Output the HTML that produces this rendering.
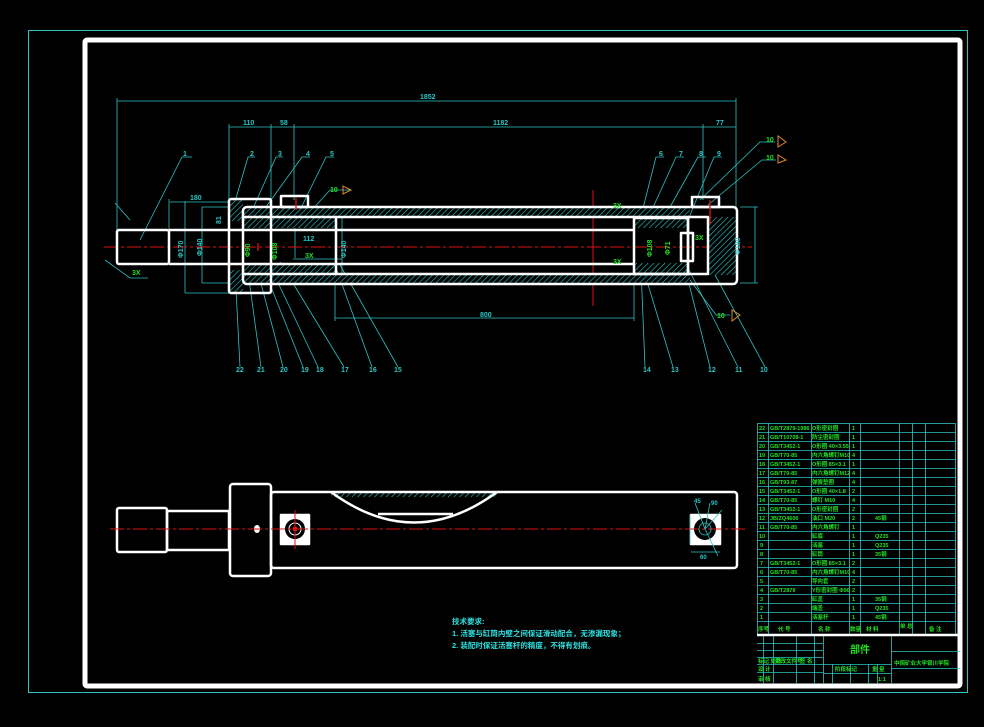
<!DOCTYPE html>
<html><head><meta charset="utf-8"><style>
html,body{margin:0;padding:0;background:#000;}
svg{display:block;}
text{font-family:"Liberation Sans","Noto Sans CJK SC",sans-serif;font-weight:bold;}
</style></head><body>
<svg width="984" height="727" viewBox="0 0 984 727" xmlns="http://www.w3.org/2000/svg">
<defs>
<pattern id="h" width="4" height="4" patternUnits="userSpaceOnUse" patternTransform="rotate(45)">
<rect width="4" height="4" fill="#000"/><line x1="0" y1="0" x2="0" y2="4" stroke="#2fc8c8" stroke-width="1.2"/>
</pattern>
</defs>
<rect x="0" y="0" width="984" height="727" fill="#000"/>
<!-- frames -->
<rect x="28.5" y="30.5" width="939" height="662" fill="none" stroke="#2ec4c4" stroke-width="1"/>
<rect x="85" y="40" width="875" height="646" fill="none" stroke="#fff" stroke-width="5" rx="2"/>

<!-- ===== TOP VIEW ===== -->
<g stroke="#2ec4c4" stroke-width="0.8" fill="none">
 <!-- dim lines -->
 <line x1="117" y1="101" x2="736" y2="101"/>
 <line x1="117" y1="98" x2="117" y2="232"/>
 <line x1="736" y1="98" x2="736" y2="207"/>
 <line x1="229" y1="127" x2="736" y2="127"/>
 <line x1="229" y1="124" x2="229" y2="200"/>
 <line x1="271" y1="124" x2="271" y2="200"/>
 <line x1="294" y1="124" x2="294" y2="200"/>
 <line x1="703" y1="124" x2="703" y2="200"/>
 <line x1="335" y1="318" x2="634" y2="318"/>
 <line x1="335" y1="275" x2="335" y2="321"/>
 <line x1="634" y1="275" x2="634" y2="321"/>
 <line x1="170" y1="202" x2="230" y2="202"/>
 <line x1="169" y1="199" x2="169" y2="264"/>
 <line x1="185" y1="201" x2="185" y2="293"/>
 <line x1="185" y1="293" x2="230" y2="293"/>
 <line x1="202" y1="207" x2="202" y2="283"/>
 <line x1="202" y1="207" x2="243" y2="207"/>
 <line x1="202" y1="283" x2="243" y2="283"/>
 <line x1="740" y1="207" x2="758" y2="207"/>
 <line x1="740" y1="283" x2="758" y2="283"/>
 <line x1="755" y1="207" x2="755" y2="283"/>
 <line x1="293" y1="259" x2="342" y2="259"/>
 <line x1="342" y1="217" x2="342" y2="275"/>
 <line x1="295" y1="221" x2="295" y2="258"/>
 <!-- leaders top -->
 <polyline points="140,240 182,157 192,157"/>
 <polyline points="234,205 248,157 255,157"/>
 <polyline points="250,215 276,157 283,157"/>
 <polyline points="258,218 302,157 310,157"/>
 <polyline points="300,210 326,157 334,157"/>
 <polyline points="310,212 330,190 350,190"/>
 <polyline points="640,220 656,157 664,157"/>
 <polyline points="645,225 676,157 684,157"/>
 <polyline points="660,225 698,157 706,157"/>
 <polyline points="688,220 714,157 722,157"/>
 <polyline points="700,200 760,142 775,142"/>
 <polyline points="708,205 762,160 776,160"/>
 <!-- leaders bottom -->
 <polyline points="235,270 240,367"/><polyline points="248,272 261,367"/>
 <polyline points="258,272 283,367"/><polyline points="265,272 303,367"/>
 <polyline points="272,270 318,367"/><polyline points="280,262 344,367"/>
 <polyline points="335,265 372,367"/><polyline points="340,265 398,367"/>
 <polyline points="641,268 645,367"/><polyline points="643,268 673,367"/>
 <polyline points="685,268 710,367"/><polyline points="688,268 738,367"/>
 <polyline points="715,275 765,367"/>
 <polyline points="690,280 716,315 730,315"/>
 <polyline points="105,260 130,278 148,278"/>
 <polyline points="130,220 115,203"/>
</g>
<!-- centerlines -->
<line x1="104" y1="247" x2="752" y2="247" stroke="#e01010" stroke-width="1" stroke-dasharray="14,3,3,3"/>
<line x1="593" y1="190" x2="593" y2="306" stroke="#e01010" stroke-width="1"/>
<!-- barrel hatch bands -->
<rect x="243" y="207" width="447" height="10" fill="url(#h)"/>
<rect x="243" y="273" width="447" height="10" fill="url(#h)"/>
<rect x="243" y="217" width="93" height="11" fill="url(#h)"/>
<rect x="243" y="263" width="93" height="11" fill="url(#h)"/>
<rect x="229" y="198" width="14" height="23" fill="url(#h)"/>
<rect x="229" y="270" width="14" height="22" fill="url(#h)"/>
<rect x="634" y="217" width="54" height="11" fill="url(#h)"/>
<rect x="634" y="263" width="54" height="11" fill="url(#h)"/>
<path d="M708,217 L737,217 L737,275 L708,275 Z" fill="url(#h)"/>
<g stroke="#fff" stroke-width="2.5" fill="none" stroke-linejoin="round">
 <rect x="117" y="230" width="52" height="34" rx="2"/>
 <line x1="169" y1="230" x2="634" y2="230"/>
 <line x1="169" y1="264" x2="634" y2="264"/>
 <rect x="229" y="199" width="42" height="94" rx="2"/>
 <rect x="243" y="207" width="494" height="77" rx="4"/>
 <line x1="243" y1="217" x2="690" y2="217"/>
 <line x1="243" y1="274" x2="690" y2="274"/>
 <rect x="634" y="218" width="54" height="56"/>
 <rect x="688" y="217" width="20" height="57"/>
 <rect x="681" y="233" width="12" height="28"/>
 <rect x="281" y="196" width="27" height="11"/>
 <rect x="692" y="197" width="27" height="10"/>
 <line x1="336" y1="217" x2="336" y2="274"/>
</g>
<g stroke="#e01010" stroke-width="1.3">
 <line x1="258" y1="243" x2="258" y2="251"/><line x1="296" y1="198" x2="296" y2="210"/>
 <line x1="710" y1="200" x2="710" y2="224"/>
</g>
<g fill="#2ec4c4" font-size="7">
 <text x="420" y="99">1852</text><text x="243" y="125">110</text><text x="280" y="125">58</text>
 <text x="493" y="125">1182</text><text x="716" y="125">77</text>
 <text x="190" y="200">180</text><text x="480" y="317">800</text><text x="303" y="241">112</text>
 <text x="183" y="156">1</text><text x="250" y="156">2</text><text x="278" y="156">3</text>
 <text x="306" y="156">4</text><text x="330" y="156">5</text>
 <text x="659" y="156">6</text><text x="679" y="156">7</text><text x="699" y="156">8</text><text x="717" y="156">9</text>
 <text x="236" y="372">22</text><text x="257" y="372">21</text><text x="280" y="372">20</text>
 <text x="301" y="372">19</text><text x="316" y="372">18</text><text x="341" y="372">17</text>
 <text x="369" y="372">16</text><text x="394" y="372">15</text>
 <text x="643" y="372">14</text><text x="671" y="372">13</text><text x="708" y="372">12</text>
 <text x="735" y="372">11</text><text x="760" y="372">10</text>
 <text transform="translate(183,258) rotate(-90)">Φ170</text>
 <text transform="translate(202,256) rotate(-90)">Φ140</text>
 <text transform="translate(346,258) rotate(-90)">Φ140</text>
 <text transform="translate(740,255) rotate(-90)">Φ180</text>
 <text transform="translate(221,224) rotate(-90)">81</text>
</g>
<g fill="#20e020" font-size="7">
 <text x="330" y="192">10</text><text x="766" y="142">10</text><text x="766" y="160">10</text><text x="717" y="318">10</text>
 <text x="132" y="275">3X</text><text x="613" y="208">3X</text><text x="613" y="264">3X</text>
 <text x="305" y="258">3X</text><text x="695" y="240">3X</text>
 <text transform="translate(250,257) rotate(-90)">Φ90</text>
 <text transform="translate(277,260) rotate(-90)">Φ108</text>
 <text transform="translate(652,257) rotate(-90)">Φ108</text>
 <text transform="translate(670,255) rotate(-90)">Φ71</text>
</g>
<g stroke="#e08a30" fill="none" stroke-width="1">
 <path d="M343,186 L343,194 L351,190 Z"/><path d="M778,136 L778,147 L786,142 Z"/>
 <path d="M778,155 L778,163 L786,160 Z"/><path d="M732,310 L732,321 L740,315 Z"/>
</g>

<!-- ===== BOTTOM VIEW ===== -->
<rect x="331" y="492" width="166" height="5" fill="url(#h)"/>
<g stroke="#fff" stroke-width="2.5" fill="none" stroke-linejoin="round">
 <rect x="117" y="508" width="50" height="44" rx="2"/>
 <rect x="167" y="511" width="62" height="39"/>
 <rect x="230" y="484" width="41" height="92" rx="3"/>
 <rect x="271" y="492" width="466" height="76" rx="3"/>
 <path d="M331,492 Q414,553 497,492"/>
 <line x1="378" y1="514" x2="453" y2="514"/>
 <rect x="281" y="515" width="28" height="29" fill="#fff"/>
 <rect x="691" y="515" width="29" height="29" fill="#fff"/>
</g>
<ellipse cx="257" cy="529" rx="3" ry="4" fill="#fff"/>
<g fill="#000"><circle cx="295" cy="529" r="10"/><circle cx="705" cy="529" r="11"/></g>
<g stroke="#000" fill="none" stroke-width="1"><circle cx="295" cy="529" r="6" stroke="#fff"/></g>
<circle cx="295" cy="529" r="2.5" fill="#e01010"/>
<line x1="110" y1="529" x2="745" y2="529" stroke="#e01010" stroke-width="1" stroke-dasharray="14,3,3,3"/>
<line x1="295" y1="510" x2="295" y2="549" stroke="#e01010" stroke-width="1"/>
<g stroke="#2ec4c4" stroke-width="0.8" fill="none">
 <circle cx="705" cy="529" r="6"/>
 <line x1="705" y1="529" x2="695" y2="503"/><line x1="705" y1="529" x2="710" y2="503"/>
 <line x1="705" y1="529" x2="722" y2="510"/><line x1="705" y1="529" x2="718" y2="556"/>
 <line x1="690" y1="515" x2="690" y2="544"/><line x1="691" y1="552" x2="720" y2="552"/>
</g>
<g fill="#2ec4c4" font-size="6"><text x="700" y="559">60</text><text x="694" y="503">45</text><text x="711" y="505">90</text></g>

<!-- notes -->
<g fill="#2ee0e0" font-size="7.5">
 <text x="452" y="624">技术要求:</text>
 <text x="452" y="636">1. 活塞与缸筒内壁之间保证滑动配合，无渗漏现象；</text>
 <text x="452" y="648">2. 装配时保证活塞杆的精度，不得有划痕。</text>
</g>

<!-- ===== TABLE ===== -->
<g stroke="#2ec4c4" stroke-width="0.8" fill="none">
 <rect x="757.5" y="423.5" width="198" height="211"/>
 <g id="rows">
  <line x1="757" y1="432.5" x2="956" y2="432.5"/><line x1="757" y1="441.5" x2="956" y2="441.5"/>
  <line x1="757" y1="450.5" x2="956" y2="450.5"/><line x1="757" y1="459.5" x2="956" y2="459.5"/>
  <line x1="757" y1="468.5" x2="956" y2="468.5"/><line x1="757" y1="477.5" x2="956" y2="477.5"/>
  <line x1="757" y1="486.5" x2="956" y2="486.5"/><line x1="757" y1="495.5" x2="956" y2="495.5"/>
  <line x1="757" y1="504.5" x2="956" y2="504.5"/><line x1="757" y1="513.5" x2="956" y2="513.5"/>
  <line x1="757" y1="522.5" x2="956" y2="522.5"/><line x1="757" y1="531.5" x2="956" y2="531.5"/>
  <line x1="757" y1="540.5" x2="956" y2="540.5"/><line x1="757" y1="549.5" x2="956" y2="549.5"/>
  <line x1="757" y1="558.5" x2="956" y2="558.5"/><line x1="757" y1="567.5" x2="956" y2="567.5"/>
  <line x1="757" y1="576.5" x2="956" y2="576.5"/><line x1="757" y1="585.5" x2="956" y2="585.5"/>
  <line x1="757" y1="594.5" x2="956" y2="594.5"/><line x1="757" y1="603.5" x2="956" y2="603.5"/>
  <line x1="757" y1="612.5" x2="956" y2="612.5"/><line x1="757" y1="621.5" x2="956" y2="621.5"/>
 </g>
 <line x1="768.5" y1="423" x2="768.5" y2="634"/><line x1="811.5" y1="423" x2="811.5" y2="634"/>
 <line x1="849.5" y1="423" x2="849.5" y2="634"/><line x1="860.5" y1="423" x2="860.5" y2="634"/>
 <line x1="899.5" y1="423" x2="899.5" y2="634"/><line x1="912.5" y1="423" x2="912.5" y2="634"/>
 <line x1="925.5" y1="423" x2="925.5" y2="634"/>
 <!-- title block -->
 <line x1="757" y1="643.5" x2="823" y2="643.5"/><line x1="757" y1="650.5" x2="823" y2="650.5"/>
 <line x1="757" y1="657.5" x2="823" y2="657.5"/><line x1="757" y1="664.5" x2="823" y2="664.5"/>
 <line x1="757" y1="672.5" x2="823" y2="672.5"/>
 <line x1="823.5" y1="636" x2="823.5" y2="684"/><line x1="891.5" y1="636" x2="891.5" y2="684"/>
 <line x1="763.5" y1="636" x2="763.5" y2="684"/><line x1="773.5" y1="636" x2="773.5" y2="684"/>
 <line x1="796.5" y1="636" x2="796.5" y2="684"/><line x1="814.5" y1="636" x2="814.5" y2="684"/>
 <line x1="823" y1="664.5" x2="891" y2="664.5"/><line x1="823" y1="673.5" x2="891" y2="673.5"/>
 <line x1="832.5" y1="664" x2="832.5" y2="684"/><line x1="850.5" y1="664" x2="850.5" y2="684"/>
 <line x1="868.5" y1="664" x2="868.5" y2="684"/><line x1="877.5" y1="664" x2="877.5" y2="684"/>
 <line x1="891" y1="651.5" x2="960" y2="651.5"/><line x1="891" y1="668.5" x2="960" y2="668.5"/>
</g>
<line x1="757" y1="635" x2="960" y2="635" stroke="#fff" stroke-width="2.5"/>
<g fill="#20e020" font-size="5.5">
 <text x="759" y="430">22</text><text x="770" y="430">GB/T2879-1986</text><text x="812" y="430">O形密封圈</text><text x="852" y="430">1</text>
 <text x="759" y="439">21</text><text x="770" y="439">GB/T10708-1</text><text x="812" y="439">防尘密封圈</text><text x="852" y="439">1</text>
 <text x="759" y="448">20</text><text x="770" y="448">GB/T3452-1</text><text x="812" y="448">O形圈 40×3.55</text><text x="852" y="448">1</text>
 <text x="759" y="457">19</text><text x="770" y="457">GB/T70-85</text><text x="812" y="457">内六角螺钉M10</text><text x="852" y="457">4</text>
 <text x="759" y="466">18</text><text x="770" y="466">GB/T3452-1</text><text x="812" y="466">O形圈 85×3.1</text><text x="852" y="466">1</text>
 <text x="759" y="475">17</text><text x="770" y="475">GB/T70-85</text><text x="812" y="475">内六角螺钉M12</text><text x="852" y="475">4</text>
 <text x="759" y="484">16</text><text x="770" y="484">GB/T93-87</text><text x="812" y="484">弹簧垫圈</text><text x="852" y="484">4</text>
 <text x="759" y="493">15</text><text x="770" y="493">GB/T3452-1</text><text x="812" y="493">O形圈 40×1.8</text><text x="852" y="493">2</text>
 <text x="759" y="502">14</text><text x="770" y="502">GB/T70-85</text><text x="812" y="502">螺钉 M10</text><text x="852" y="502">4</text>
 <text x="759" y="511">13</text><text x="770" y="511">GB/T3452-1</text><text x="812" y="511">O形密封圈</text><text x="852" y="511">2</text>
 <text x="759" y="520">12</text><text x="770" y="520">JB/ZQ4606</text><text x="812" y="520">油口 M20</text><text x="852" y="520">2</text><text x="875" y="520">45钢</text>
 <text x="759" y="529">11</text><text x="770" y="529">GB/T70-85</text><text x="812" y="529">内六角螺钉</text><text x="852" y="529">1</text>
 <text x="759" y="538">10</text><text x="812" y="538">缸底</text><text x="852" y="538">1</text><text x="875" y="538">Q235</text>
 <text x="760" y="547">9</text><text x="812" y="547">活塞</text><text x="852" y="547">1</text><text x="875" y="547">Q235</text>
 <text x="760" y="556">8</text><text x="812" y="556">缸筒</text><text x="852" y="556">1</text><text x="875" y="556">35钢</text>
 <text x="760" y="565">7</text><text x="770" y="565">GB/T3452-1</text><text x="812" y="565">O形圈 85×3.1</text><text x="852" y="565">2</text>
 <text x="760" y="574">6</text><text x="770" y="574">GB/T70-85</text><text x="812" y="574">内六角螺钉M10</text><text x="852" y="574">4</text>
 <text x="760" y="583">5</text><text x="812" y="583">导向套</text><text x="852" y="583">2</text>
 <text x="760" y="592">4</text><text x="770" y="592">GB/T2879</text><text x="812" y="592">Y形密封圈 Φ90</text><text x="852" y="592">2</text>
 <text x="760" y="601">3</text><text x="812" y="601">缸盖</text><text x="852" y="601">1</text><text x="875" y="601">35钢</text>
 <text x="760" y="610">2</text><text x="812" y="610">端盖</text><text x="852" y="610">1</text><text x="875" y="610">Q235</text>
 <text x="760" y="619">1</text><text x="812" y="619">活塞杆</text><text x="852" y="619">1</text><text x="875" y="619">45钢</text>
 <text x="758" y="631">序号</text><text x="778" y="631">代  号</text><text x="818" y="631">名  称</text><text x="850" y="631">数量</text>
 <text x="866" y="631">材     料</text><text x="900" y="628">单 总</text><text x="929" y="631">备 注</text>
 <text x="758" y="663">标记 处数</text><text x="775" y="663">更改文件号</text><text x="800" y="663">签 名</text>
 <text x="758" y="671">设 计</text><text x="758" y="681">审 核</text><text x="835" y="671">阶段标记</text>
 <text x="872" y="671">重 量</text><text x="878" y="681">1:1</text><text x="894" y="665">中国矿业大学银川学院</text>
</g>
<text x="850" y="653" fill="#20e020" font-size="10">部件</text>
</svg>
</body></html>
